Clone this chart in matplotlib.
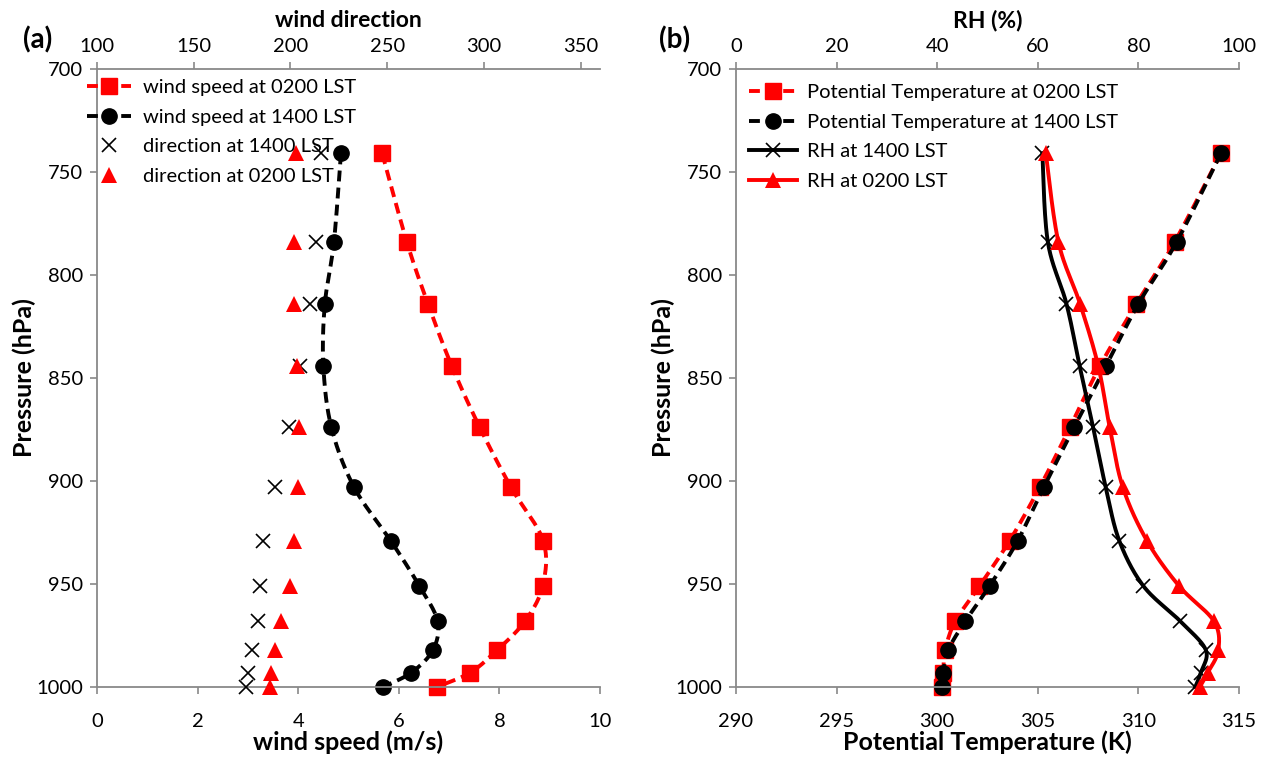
import numpy as np
import matplotlib
matplotlib.use('Agg')
import matplotlib.pyplot as plt
from matplotlib.lines import Line2D

plt.rcParams['font.family'] = ['Lato', 'DejaVu Sans']

# ---------------- data ----------------
pressure = [741, 784, 814, 844, 874, 903, 929, 951, 968, 982, 993, 1000]
speed_0200 = [5.67, 6.16, 6.58, 7.05, 7.61, 8.23, 8.87, 8.86, 8.51, 7.96, 7.42, 6.75]
speed_1400 = [4.85, 4.71, 4.53, 4.50, 4.66, 5.11, 5.84, 6.41, 6.77, 6.68, 6.25, 5.68]
dir_1400 = [216, 213, 210, 205, 199, 192, 186, 184, 183, 180, 178, 177]
dir_0200 = [203, 202, 202, 203.5, 204.5, 204, 202, 200, 195, 192, 190, 189.5]
pt_0200 = [314.1, 311.8, 309.9, 308.1, 306.6, 305.1, 303.6, 302.1, 300.9, 300.4, 300.3, 300.25]
pt_1400 = [314.1, 311.9, 310.0, 308.4, 306.8, 305.3, 304.0, 302.6, 301.4, 300.55, 300.3, 300.25]
rh_1400 = [60.9, 62.0, 65.7, 68.3, 71.0, 73.5, 76.2, 81.0, 88.3, 93.4, 92.4, 91.3]
rh_0200 = [61.6, 64.1, 68.4, 72.0, 74.3, 76.9, 81.7, 88.1, 95.0, 95.9, 93.8, 92.2]

speed_ticks = [0, 2, 4, 6, 8, 10]
dir_ticks = [100, 150, 200, 250, 300, 350]
pt_ticks = [290, 295, 300, 305, 310, 315]
rh_ticks = [0, 20, 40, 60, 80, 100]
p_ticks = [700, 750, 800, 850, 900, 950, 1000]


def smooth(x, y, n=24):
    """Excel-like smoothed curve (cubic Bezier through the points)."""
    P = np.column_stack([np.asarray(x, float), np.asarray(y, float)])
    m = len(P)
    out = [P[0]]
    t = np.linspace(0, 1, n)[1:, None]
    for i in range(m - 1):
        p0 = P[i - 1] if i > 0 else P[i]
        p1, p2 = P[i], P[i + 1]
        p3 = P[i + 2] if i + 2 < m else P[i + 1]
        c1 = p1 + (p2 - p0) / 6.0
        c2 = p2 - (p3 - p1) / 6.0
        seg = (1 - t) ** 3 * p1 + 3 * (1 - t) ** 2 * t * c1 + 3 * (1 - t) * t ** 2 * c2 + t ** 3 * p2
        out.extend(seg)
    out = np.array(out)
    return out[:, 0], out[:, 1]


W, H = 1266, 764
fig = plt.figure(figsize=(W / 100, H / 100), dpi=100)
GRAY = '#898989'
DASH = (0, (2.8, 1.6))
LW = 2.8
MS = 11
FS_TICK = 14.5
FS_LAB = 18


def style_axes(ax, ax2):
    for a in (ax, ax2):
        for s in a.spines.values():
            s.set_color(GRAY)
            s.set_linewidth(1.3)
        a.spines['right'].set_visible(False)
    ax.spines['top'].set_visible(False)
    ax2.spines['bottom'].set_visible(False)
    ax2.spines['left'].set_visible(False)
    ax.tick_params(axis='both', colors=GRAY, labelcolor='black', labelsize=FS_TICK,
                   direction='out', length=5, width=1.2, pad=5)
    ax.tick_params(axis='x', pad=14)
    ax2.tick_params(axis='x', colors=GRAY, labelcolor='black', labelsize=FS_TICK,
                    direction='out', length=5, width=1.2, pad=5)
    ax.set_ylim(1000, 700)
    ax.set_yticks(p_ticks)


rect_y = 1 - 687 / H
rect_h = 618 / H
rect_w = 503 / W

# ---------------- panel (a) ----------------
axa = fig.add_axes([97 / W, rect_y, rect_w, rect_h])
axa2 = axa.twiny()
style_axes(axa, axa2)
axa.set_xlim(0, 10)
axa.set_xticks(speed_ticks)
axa2.set_xlim(100, 360)
axa2.set_xticks(dir_ticks)

xs, ys = smooth(speed_0200, pressure)
axa.plot(xs, ys, color='red', ls=DASH, lw=LW, clip_on=False)
axa.plot(speed_0200, pressure, ls='none', marker='s', ms=MS, color='red', clip_on=False)
xs, ys = smooth(speed_1400, pressure)
axa.plot(xs, ys, color='black', ls=DASH, lw=LW, clip_on=False)
axa.plot(speed_1400, pressure, ls='none', marker='o', ms=MS, color='black', clip_on=False)
axa2.plot(dir_1400, pressure, ls='none', marker='x', ms=10, mew=1.2, color='black', clip_on=False)
axa2.plot(dir_0200, pressure, ls='none', marker='^', ms=MS, color='red', mew=0, clip_on=False)

axa.set_xlabel('wind speed (m/s)', fontsize=FS_LAB, fontweight='bold', labelpad=0)
axa2.set_xlabel('wind direction', fontsize=16.5, fontweight='bold', labelpad=8)
axa.set_ylabel('Pressure (hPa)', fontsize=18, fontweight='bold', labelpad=0)

handles_a = [
    Line2D([], [], color='red', ls=DASH, lw=LW, marker='s', ms=MS),
    Line2D([], [], color='black', ls=DASH, lw=LW, marker='o', ms=MS),
    Line2D([], [], color='black', ls='none', marker='x', ms=10, mew=1.2),
    Line2D([], [], color='red', ls='none', marker='^', ms=MS, mew=0),
]
labels_a = ['wind speed at 0200 LST', 'wind speed at 1400 LST',
            'direction at 1400 LST', 'direction at 0200 LST']
axa2.legend(handles_a, labels_a, loc='upper left', frameon=False, fontsize=FS_TICK,
            bbox_to_anchor=(87 / W, 1 - 79 / H), bbox_transform=fig.transFigure,
            borderaxespad=0, borderpad=0, handlelength=2.2, handletextpad=0.6,
            labelspacing=0.62, numpoints=1)

# ---------------- panel (b) ----------------
axb = fig.add_axes([736 / W, rect_y, rect_w, rect_h])
axb2 = axb.twiny()
style_axes(axb, axb2)
axb.set_xlim(290, 315)
axb.set_xticks(pt_ticks)
axb2.set_xlim(0, 100)
axb2.set_xticks(rh_ticks)

xs, ys = smooth(pt_0200, pressure)
axb.plot(xs, ys, color='red', ls=DASH, lw=LW, clip_on=False)
axb.plot(pt_0200, pressure, ls='none', marker='s', ms=MS, color='red', clip_on=False)
xs, ys = smooth(pt_1400, pressure)
axb.plot(xs, ys, color='black', ls=DASH, lw=LW, clip_on=False)
axb.plot(pt_1400, pressure, ls='none', marker='o', ms=MS, color='black', clip_on=False)
xs, ys = smooth(rh_1400, pressure)
axb2.plot(xs, ys, color='black', ls='-', lw=LW, clip_on=False)
axb2.plot(rh_1400, pressure, ls='none', marker='x', ms=10, mew=1.2, color='black', clip_on=False)
xs, ys = smooth(rh_0200, pressure)
axb2.plot(xs, ys, color='red', ls='-', lw=LW, clip_on=False)
axb2.plot(rh_0200, pressure, ls='none', marker='^', ms=MS, color='red', mew=0, clip_on=False)

axb.set_xlabel('Potential Temperature (K)', fontsize=FS_LAB, fontweight='bold', labelpad=0)
axb2.set_xlabel('RH (%)', fontsize=16.5, fontweight='bold', labelpad=8)
axb.set_ylabel('Pressure (hPa)', fontsize=18, fontweight='bold', labelpad=0)

handles_b = [
    Line2D([], [], color='red', ls=DASH, lw=LW, marker='s', ms=MS),
    Line2D([], [], color='black', ls=DASH, lw=LW, marker='o', ms=MS),
    Line2D([], [], color='black', ls='-', lw=LW, marker='x', ms=10, mew=1.2),
    Line2D([], [], color='red', ls='-', lw=LW, marker='^', ms=MS, mew=0),
]
labels_b = ['Potential Temperature at 0200 LST', 'Potential Temperature at 1400 LST',
            'RH at 1400 LST', 'RH at 0200 LST']
axb2.legend(handles_b, labels_b, loc='upper left', frameon=False, fontsize=FS_TICK,
            bbox_to_anchor=(749 / W, 1 - 84 / H), bbox_transform=fig.transFigure,
            borderaxespad=0, borderpad=0, handlelength=2.4, handletextpad=0.5,
            labelspacing=0.62, numpoints=1)

fig.text(38 / W, 1 - 40 / H, '(a)', fontsize=20, fontweight='bold', ha='center', va='center')
fig.text(675 / W, 1 - 40 / H, '(b)', fontsize=20, fontweight='bold', ha='center', va='center')

fig.savefig('out.png', dpi=100)
